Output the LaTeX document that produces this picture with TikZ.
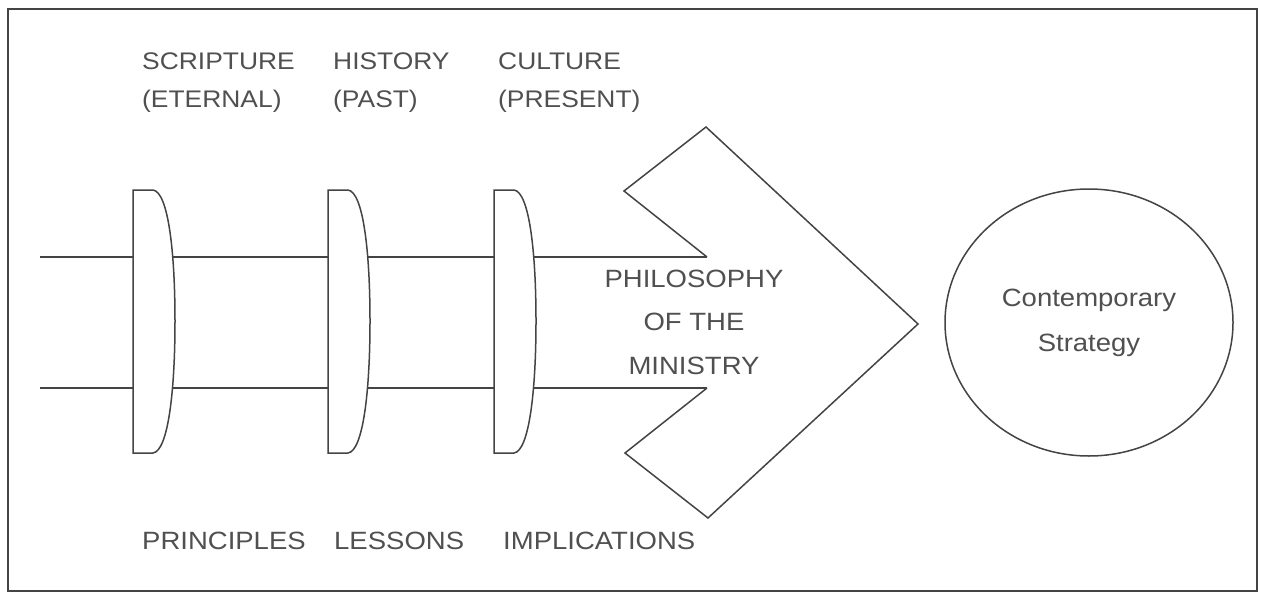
\documentclass[tikz,border=0pt]{standalone}
\usepackage{fontspec}
\setmainfont{Liberation Sans}[FakeStretch=1.1]
\usetikzlibrary{positioning, shapes.geometric}

\definecolor{linegray}{HTML}{444444}
\definecolor{txtgray}{HTML}{505050}

\begin{document}
\begin{tikzpicture}[x=1pt, y=-1pt,
					line/.style={draw=linegray, line width=1.5pt, line join=miter},
					lens/.style={line, fill=white},
					lbl/.style={text=txtgray, inner sep=0pt, font=\fontsize{24}{38}\selectfont},
					low/.style={lbl, anchor=base west, font=\fontsize{25}{30}\selectfont},
					big/.style={lbl, font=\fontsize{25}{43.5}\selectfont, align=center} ]
	\fill[white] (0,0) rectangle (1261,594);
	\useasboundingbox (0,0) rectangle (1261,594);
	\draw[draw=linegray, line width=2.5pt] (8,9) rectangle (1257,591);
	
	%Linhas de entrada e seta
	\coordinate (inU) at (40,257);
	\coordinate (inL) at (40,388);
	\coordinate (notchU) at (707,257);
	\coordinate (notchL) at (707,388);
	\draw[line] (inU) -- (notchU);
	\draw[line] (inL) -- (notchL);
	\draw[line] (notchU) -- (624,191) -- (706,127) -- (918,324) -- (708,518) -- (625,453) -- (notchL);
	
	%Lentes
	\foreach \x/\n in {133/scr, 328/his, 494/cul}{
		\draw[lens] (\x,190) coordinate (\n top) -- (\x,453) coordinate (\n bot) -- (\x+20,453)
			.. controls (\x+35,451) and (\x+42,392) .. (\x+42,321)
			.. controls (\x+42,250) and (\x+35,192) .. (\x+20,190) -- cycle;
	}
	
	\node[lbl, anchor=north west, align=left] (scripture) at (142,53) {SCRIPTURE\\(ETERNAL)};
	\node[lbl, anchor=north west, align=left] (history)   at (333,53) {HISTORY\\(PAST)};
	\node[lbl, anchor=north west, align=left] (culture)   at (498,53) {CULTURE\\(PRESENT)};
	
	\node[low] (principles)   at (142,549) {PRINCIPLES};
	\node[low] (lessons)      at (334,549) {LESSONS};
	\node[low] (implications) at (503,549) {IMPLICATIONS};
	
	\node[big] (philosophy) at (694,322) {PHILOSOPHY\\OF THE\\MINISTRY};
	
	\node[ellipse, line, minimum width=288pt, minimum height=267pt, inner sep=0pt,
		align=center, text=txtgray, font=\fontsize{25}{45}\selectfont] (strategy) at (1089,322.5) {Contemporary\\Strategy};
\end{tikzpicture}
\end{document}
